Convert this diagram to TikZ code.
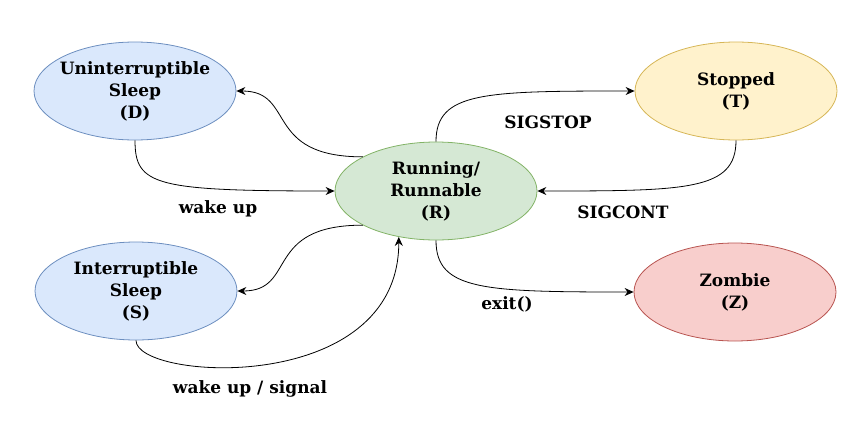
\documentclass[tikz,border=0pt]{standalone}
\usepackage{fontspec}
\setmainfont{DejaVu Serif}
\usetikzlibrary{shapes.geometric,arrows.meta}
\definecolor{sleepfill}{HTML}{DAE8FC}
\definecolor{sleepdraw}{HTML}{6C8EBF}
\definecolor{runfill}{HTML}{D5E8D4}
\definecolor{rundraw}{HTML}{82B366}
\definecolor{stopfill}{HTML}{FFF2CC}
\definecolor{stopdraw}{HTML}{D6B656}
\definecolor{zombfill}{HTML}{F8CECC}
\definecolor{zombdraw}{HTML}{B85450}

\begin{document}
\begin{tikzpicture}[x=1pt,y=-1pt,
    state/.style={ellipse, draw, line width=0.8pt, inner xsep=-12pt, inner ysep=0pt,
    minimum width=202pt, minimum height=98pt, align=center,
    font=\fontsize{17}{22}\selectfont\bfseries},
    sleepstate/.style={state, fill=sleepfill, draw=sleepdraw},
    runstate/.style={state, fill=runfill, draw=rundraw},
    stopstate/.style={state, fill=stopfill, draw=stopdraw},
    zombstate/.style={state, fill=zombfill, draw=zombdraw},
    trans/.style={draw, line width=0.8pt, -{Stealth[length=9pt,width=8pt,inset=3pt]}},
    lbl/.style={font=\fontsize{17}{22}\selectfont\bfseries}]
    \useasboundingbox (0,0) rectangle (862,434);
    % states
    \node[sleepstate] (D) at (135,91) {Uninterruptible\\Sleep\\(D)};
    \node[sleepstate] (S) at (136,291) {Interruptible\\Sleep\\(S)};
    \node[runstate] (R) at (436,191) {Running/\\Runnable\\(R)};
    \node[stopstate] (T) at (736,91) {Stopped\\(T)};
    \node[zombstate] (Z) at (735,292) {Zombie\\(Z)};
    % transitions
    \path[trans] (R.155) .. controls +(-100,0) and +(60,0) .. (D.east);
    \path[trans] (D.south) .. controls +(0,45) and +(-180,0) .. (R.west);
    \path[trans] (R.205) .. controls +(-100,0) and +(60,0) .. (S.east);
    \path[trans] (S.south) .. controls +(0,40) and +(0,160) .. (R.231);
    \path[trans] (R.north) .. controls +(0,-50) and +(-150,0) .. (T.west);
    \path[trans] (T.south) .. controls +(0,50) and +(150,0) .. (R.east);
    \path[trans] (R.south) .. controls +(0,50) and +(-150,0) .. (Z.west);
    % labels
    \node[lbl] (lwake) at (218,209) {wake up};
    \node[lbl] (lsig) at (250,389) {wake up / signal};
    \node[lbl] (lstop) at (548,122) {SIGSTOP};
    \node[lbl] (lcont) at (623,212) {SIGCONT};
    \node[lbl] (lexit) at (507,304) {exit()};
\end{tikzpicture}
\end{document}
